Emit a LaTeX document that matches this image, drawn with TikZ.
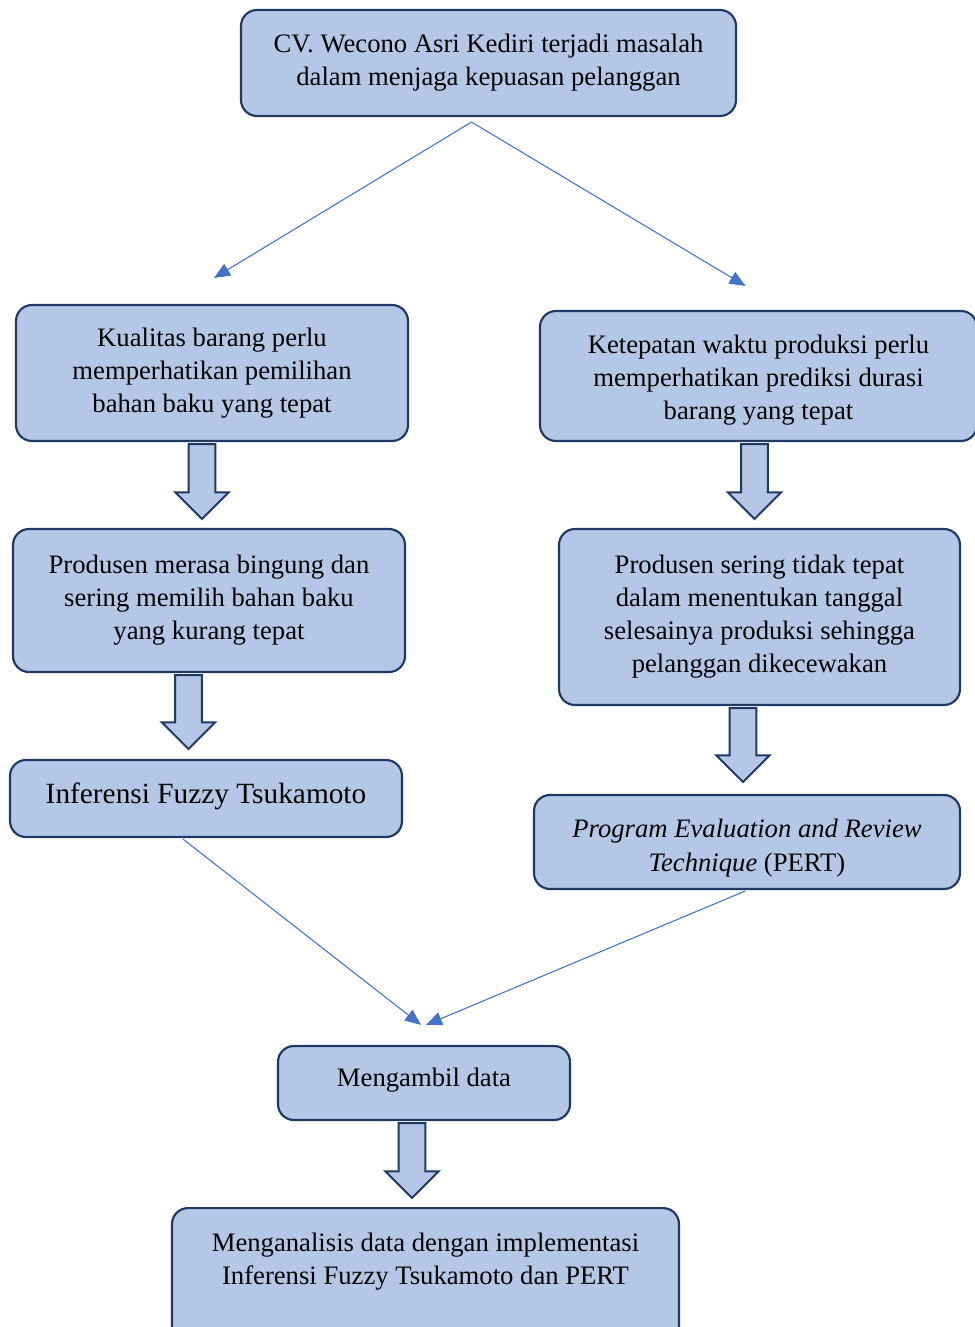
\documentclass[tikz,border=0pt]{standalone}
\usepackage{fontspec}
\setmainfont{Liberation Serif}
\usetikzlibrary{arrows.meta,calc}
\definecolor{boxfill}{HTML}{B4C7E7}
\definecolor{boxline}{HTML}{203864}
\definecolor{linkblue}{HTML}{4472C4}
% wide hollow arrow between two boxes
\newcommand{\fatarrow}[2]{%
  \draw[fat] let \p1=(#1), \p2=(#2) in
    (\x1-10pt,\y1) -- (\x1+10pt,\y1) -- (\x1+10pt,\y2+20pt)
    -- (\x1+20pt,\y2+20pt) -- (\x1,\y2) -- (\x1-20pt,\y2+20pt)
    -- (\x1-10pt,\y2+20pt) -- cycle;}
\begin{document}
\begin{tikzpicture}[x=0.75pt,y=-0.75pt,
    box/.style={draw=boxline,fill=boxfill,line width=1.6pt,rounded corners=12pt,
      align=center,inner sep=0pt,font=\fontsize{20}{24.8}\selectfont},
    fat/.style={draw=boxline,fill=boxfill,line width=1.5pt,line join=miter},
    link/.style={draw=linkblue,line width=0.8pt,-{Triangle[length=12pt,width=10pt]}}]
  \useasboundingbox (0,0) rectangle (974,1327);
  \node[box,minimum width=371.25pt,minimum height=79.5pt] (problem) at (488.5,63)
    {CV. Wecono Asri Kediri terjadi masalah\\dalam menjaga kepuasan pelanggan};
  \node[box,minimum width=294pt,minimum height=102pt] (quality) at (212,373)
    {Kualitas barang perlu\\memperhatikan pemilihan\\bahan baku yang tepat};
  \node[box,minimum width=327.75pt,minimum height=97.5pt] (timing) at (758.5,376)
    {\rule{0pt}{20pt}Ketepatan waktu produksi perlu\\memperhatikan prediksi durasi\\barang yang tepat};
  \node[box,minimum width=294pt,minimum height=107.25pt] (confused) at (209,600.5)
    {Produsen merasa bingung dan\\sering memilih bahan baku\\yang kurang tepat};
  \node[box,minimum width=300.75pt,minimum height=132pt] (late) at (759.5,617)
    {Produsen sering tidak tepat\\dalam menentukan tanggal\\selesainya produksi sehingga\\pelanggan dikecewakan};
  \node[box,minimum width=294pt,minimum height=57.75pt,text depth=8.3pt,
    font=\fontsize{22}{26}\selectfont] (fuzzy) at (206,798.5)
    {Inferensi Fuzzy Tsukamoto};
  \node[box,minimum width=319.5pt,minimum height=70.5pt] (pert) at (747,842)
    {\rule{0pt}{23pt}\textit{Program Evaluation and Review}\\\textit{Technique} (PERT)};
  \node[box,minimum width=219pt,minimum height=55.5pt,text depth=9.1pt] (data) at (424,1083)
    {Mengambil data};
  \node[box,minimum width=380.25pt,inner ysep=19pt,anchor=north] (analysis) at (425.5,1207)
    {Menganalisis data dengan implementasi\\Inferensi Fuzzy Tsukamoto dan PERT\\[60pt]\mbox{}};
  \begin{scope}[link]
    \draw ($(problem.south)+(-17,5)$) to ($(quality.north)+(2,-26)$);
    \draw ($(problem.south)+(-17,5)$) to ($(timing.north)+(-13,-24)$);
    \draw ($(fuzzy.south)+(-23,1)$) to ($(data.north)+(-3,-20)$);
    \draw ($(pert.south)+(-2,1)$) to ($(data.north)+(2,-20)$);
  \end{scope}
  \fatarrow{$(quality.south)+(-10,2)$}{$(confused.north)+(-10,-9)$}
  \fatarrow{$(confused.south)+(-20.5,2)$}{$(fuzzy.north)+(-17.5,-10)$}
  \fatarrow{$(timing.south)+(-4,2)$}{$(late.north)+(-5,-9)$}
  \fatarrow{$(late.south)+(-16.5,2)$}{$(pert.north)+(-4,-12)$}
  \fatarrow{$(data.south)+(-12,2)$}{$(analysis.north)+(-13.5,-9)$}
\end{tikzpicture}
\end{document}
